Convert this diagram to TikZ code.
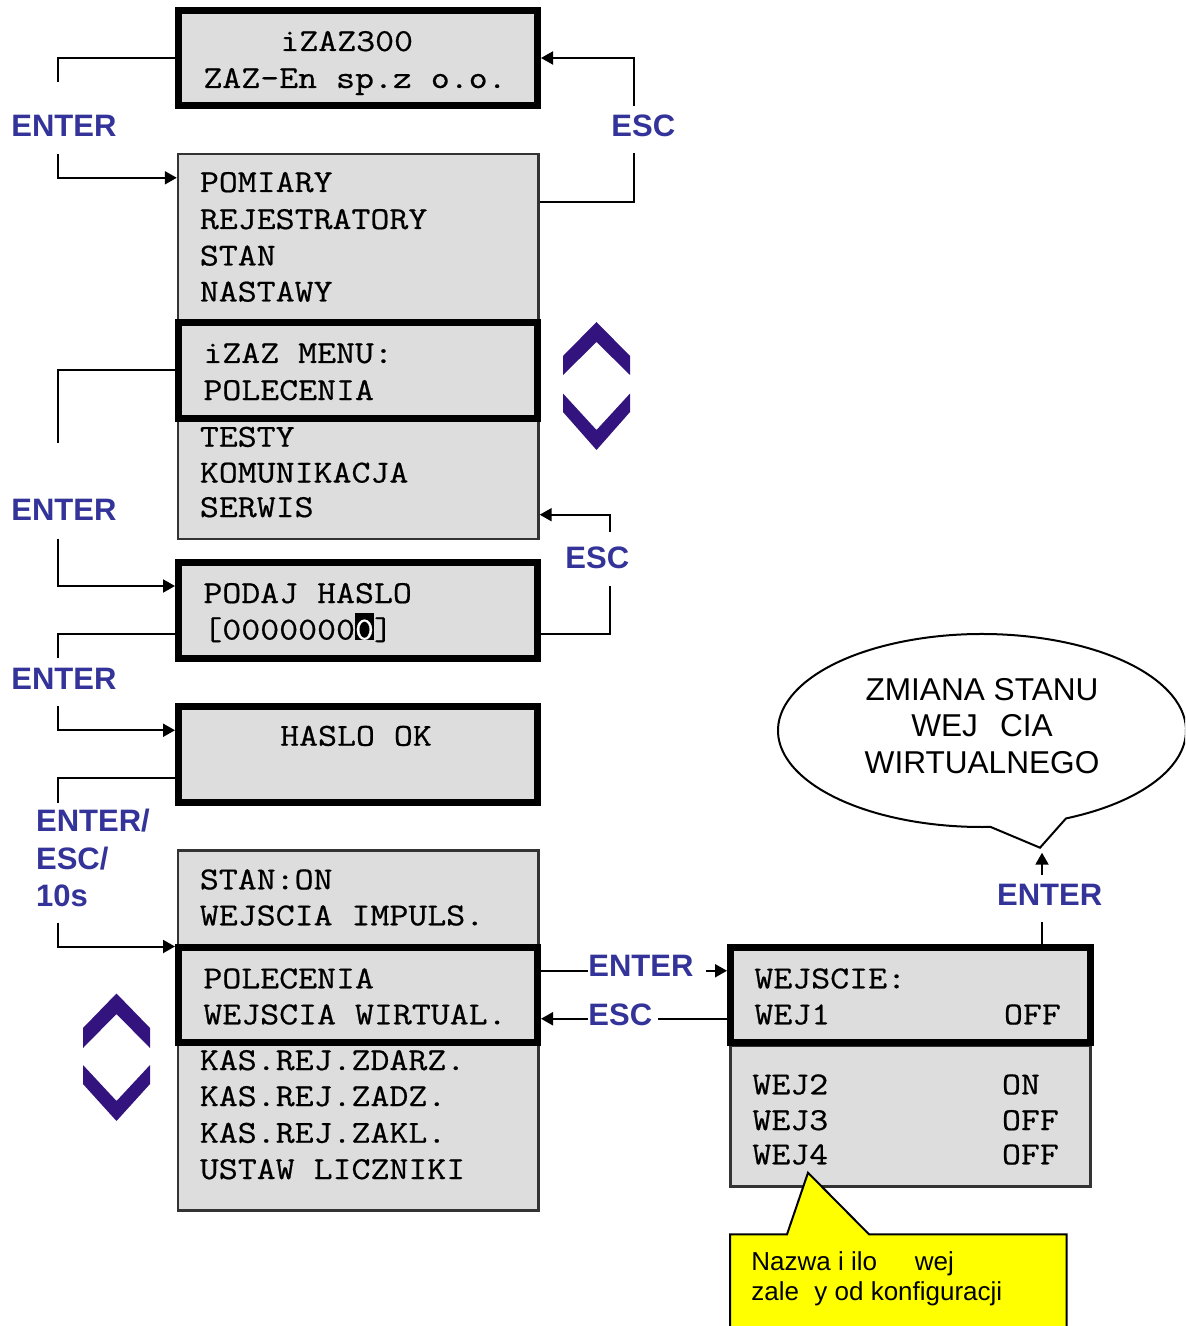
\documentclass[tikz,border=0pt]{standalone}
\usepackage{fontspec}
\setmainfont{Liberation Sans}
\newfontfamily\lcdfont[FakeStretch=1.15,FakeBold=0.6]{Latin Modern Mono}
\usetikzlibrary{arrows.meta,calc,fit}
\definecolor{lcdgray}{HTML}{DDDDDD}
\definecolor{keyblue}{HTML}{333399}
\definecolor{chev}{HTML}{33147F}
\definecolor{noteyellow}{HTML}{FFFF00}
% inverted character cell for the cursor position
\newcommand\cursorcell[1]{{\setlength{\fboxsep}{0pt}\colorbox{black}{\rule{0pt}{13.5pt}\textcolor{white}{#1}}}}
\begin{document}
\begin{tikzpicture}[x=0.5pt,y=-0.5pt,
  lcdbox/.style={draw=black!80, line width=1.2pt, fill=lcdgray, inner sep=0pt},
  lcdsel/.style={draw=black, line width=3.5pt, fill=lcdgray, inner sep=0pt},
  lcdtext/.style={anchor=base west, inner sep=0pt, font={\lcdfont\fontsize{16}{18}\selectfont}},
  keylabel/.style={anchor=base west, inner sep=0pt, text=keyblue, font={\bfseries\fontsize{15.5}{18}\selectfont}},
  notetext/.style={inner sep=0pt, font={\fontsize{15.8}{18}\selectfont}},
  conn/.style={line width=1pt, draw=black},
  chevron/.style={fill=chev, draw=none},
  >={Triangle[length=6pt,width=6.5pt]}]
\useasboundingbox (0,0) rectangle (1185,1326);
\clip (0,0) rectangle (1185,1326);

% ---- display screens ----
\node[lcdsel, fit={(178.5,10.5) (537.5,105.5)}] (b1) {};
\node[lcdbox, fit={(178,154) (538.5,539)}] (b2) {};
\node[lcdsel, fit={(178.5,322.5) (537.5,418)}] (m1) {};
\node[lcdsel, fit={(178.5,562) (537.5,658)}] (b3) {};
\node[lcdsel, fit={(178.5,706) (537.5,802.5)}] (b4) {};
\node[lcdbox, fit={(178,850.5) (538.5,1210.5)}] (b5) {};
\node[lcdsel, fit={(178.5,947) (537.5,1042.5)}] (m2) {};
\node[lcdbox, fit={(730.5,1046) (1090.5,1186.5)}] (b7) {};
\node[lcdsel, fit={(730.5,947) (1090.5,1042.5)}] (b6) {};

% ---- note callout ----
\draw[line width=1pt, fill=noteyellow] (730,1234.3) -- (787,1234.3) -- (808,1172.7)
  -- (869,1234.3) -- (1066.7,1234.3) -- (1066.7,1340) -- (730,1340) -- cycle;
\node[notetext, anchor=base west, font={\fontsize{13}{15}\selectfont}] (note1) at (751,1270)
  {\makebox[81.75pt][l]{Nazwa i ilo}wej};
\node[notetext, anchor=base west, font={\fontsize{13}{15}\selectfont}] (note2) at (751,1300)
  {\makebox[31.5pt][l]{zale}y od konfiguracji};

% ---- speech bubble ----
\coordinate (bubc) at (982,730.5);
\coordinate (tailtip) at (1040,847.7);
\draw[line width=1pt, fill=white] ($(bubc)+(65.7:204 and 96.5)$)
  arc[start angle=65.7, end angle=-272.4, x radius=204, y radius=96.5]
  -- (tailtip) -- cycle;
\node[notetext, anchor=base] (bub1) at (982,700) {ZMIANA STANU};
\node[notetext, anchor=base] (bub2) at (982,736) {WEJ\hspace{11pt}CIA};
\node[notetext, anchor=base] (bub3) at (982,773.3) {WIRTUALNEGO};

% ---- scroll chevrons ----
\fill[chevron] (563,375) -- (563,356) -- (596.5,322) -- (630,356) -- (630,375) -- (596.5,342) -- cycle;
\fill[chevron] (563,393.5) -- (596.5,430) -- (630,393.5) -- (630,412) -- (596.5,450) -- (563,412) -- cycle;
\fill[chevron] (83,1048) -- (83,1028) -- (116.5,993.5) -- (150,1028) -- (150,1048) -- (116.5,1014) -- cycle;
\fill[chevron] (83,1065) -- (116.5,1101) -- (150,1065) -- (150,1084) -- (116.5,1121) -- (83,1084) -- cycle;

% ---- screen texts ----
\node[lcdtext] (t1a) at (280,51) {iZAZ300};
\node[lcdtext] (t1b) at (203,88) {ZAZ-En sp.z o.o.};

\node[lcdtext] (t2a) at (199.5,192) {POMIARY};
\node[lcdtext] (t2b) at (199.5,229) {REJESTRATORY};
\node[lcdtext] (t2c) at (199.5,265.5) {STAN};
\node[lcdtext] (t2d) at (199.5,301.5) {NASTAWY};
\node[lcdtext] (t2e) at (203,363) {iZAZ MENU:};
\node[lcdtext] (t2f) at (203,400) {POLECENIA};
\node[lcdtext] (t2g) at (199.5,446.7) {TESTY};
\node[lcdtext] (t2h) at (199.5,482.5) {KOMUNIKACJA};
\node[lcdtext] (t2i) at (199.5,517) {SERWIS};

\node[lcdtext] (t3a) at (203,603) {PODAJ HASLO};
\node[lcdtext] (t3b) at (203,639.5) {[0000000\cursorcell{0}]};

\node[lcdtext] (t4a) at (279.8,745.7) {HASLO OK};

\node[lcdtext] (t5a) at (199.5,889.3) {STAN:ON};
\node[lcdtext] (t5b) at (199.5,925.3) {WEJSCIA IMPULS.};
\node[lcdtext] (t5c) at (203,988.3) {POLECENIA};
\node[lcdtext] (t5d) at (203,1024.3) {WEJSCIA WIRTUAL.};
\node[lcdtext] (t5e) at (199.5,1070) {KAS.REJ.ZDARZ.};
\node[lcdtext] (t5f) at (199.5,1106) {KAS.REJ.ZADZ.};
\node[lcdtext] (t5g) at (199.5,1142.7) {KAS.REJ.ZAKL.};
\node[lcdtext] (t5h) at (199.5,1179) {USTAW LICZNIKI};

\node[lcdtext] (t6a) at (754,988.3) {WEJSCIE:};
\node[lcdtext] (t6b) at (754,1024.3) {WEJ1};
\node[lcdtext] (t6c) at (1003.6,1024.3) {OFF};
\node[lcdtext] (t7a) at (752,1094.3) {WEJ2};
\node[lcdtext] (t7b) at (1001.6,1094.3) {ON};
\node[lcdtext] (t7c) at (752,1130) {WEJ3};
\node[lcdtext] (t7d) at (1001.6,1130) {OFF};
\node[lcdtext] (t7e) at (752,1164.3) {WEJ4};
\node[lcdtext] (t7f) at (1001.6,1164.3) {OFF};

% ---- key labels ----
\node[keylabel] (lEnt1) at (11,136.7) {ENTER};
\node[keylabel] (lEsc1) at (611,136.7) {ESC};
\node[keylabel] (lEnt2) at (11,520.7) {ENTER};
\node[keylabel] (lEsc2) at (565,568) {ESC};
\node[keylabel] (lEnt3) at (11,689) {ENTER};
\node[keylabel] (lEnt4a) at (35.7,831.7) {ENTER/};
\node[keylabel] (lEnt4b) at (35.7,869) {ESC/};
\node[keylabel] (lEnt4c) at (35.7,906.7) {10s};
\node[keylabel] (lEnt5) at (588,976.7) {ENTER};
\node[keylabel] (lEsc6) at (588,1025) {ESC};
\node[keylabel] (lEnt7) at (996.7,905) {ENTER};

% ---- connectors ----
\coordinate (e1a) at (58,82);
\coordinate (e1b) at (58,154);
\draw[conn] (b1.west) -| (e1a);
\draw[conn,->] (e1b) |- ($(b2.north west)+(0,25)$);

\coordinate (s1a) at (634,153.5);
\coordinate (s1b) at (634,106.5);
\draw[conn] ($(b2.north east)+(0,49)$) -| (s1a);
\draw[conn,->] (s1b) |- (b1.east);

\coordinate (e2a) at (58,442.5);
\coordinate (e2b) at (58,538.5);
\draw[conn] (m1.west) -| (e2a);
\draw[conn,->] (e2b) |- ($(b3.west)+(0,-24)$);

\coordinate (s2a) at (610,586);
\coordinate (s2b) at (610,531.5);
\draw[conn] ($(b3.east)+(0,23.5)$) -| (s2a);
\draw[conn,->] (s2b) |- ($(b2.south east)+(0,-25.5)$);

\coordinate (e3a) at (58,658);
\coordinate (e3b) at (58,706);
\draw[conn] ($(b3.west)+(0,23.5)$) -| (e3a);
\draw[conn,->] (e3b) |- ($(b4.west)+(0,-24)$);

\coordinate (e4a) at (58,802.5);
\coordinate (e4b) at (58,922.5);
\draw[conn] ($(b4.west)+(0,24)$) -| (e4a);
\draw[conn,->] (e4b) |- ($(m2.north west)+(0,3)$);

\coordinate (p5) at ($(m2.east)+(0,-24)$);
\coordinate (p5b) at (706,970.75);
\draw[conn] (p5) -- (p5 -| lEnt5.west);
\draw[conn,->] (p5b) -- (p5b -| b6.west);

\coordinate (p6) at ($(m2.east)+(0,24)$);
\coordinate (p6b) at (658,1018.75);
\draw[conn] (p6 -| b6.west) -- (p6b);
\draw[conn,->] (p6 -| lEsc6.west) -- (p6);

\coordinate (u1) at (1042,922);
\coordinate (u2) at (1042,875);
\draw[conn] (b6.north -| u1) -- (u1);
\draw[conn,->,shorten >=2.5pt] (u2) -- (u2 |- tailtip);
\end{tikzpicture}
\end{document}
